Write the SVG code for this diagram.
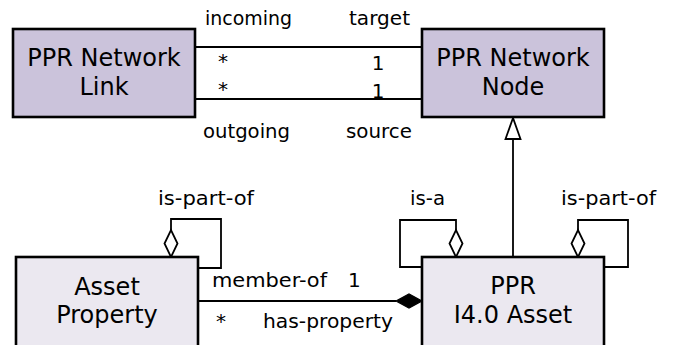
<svg xmlns="http://www.w3.org/2000/svg" width="673" height="345" viewBox="0 0 673 345">
  <style>
    .cls { stroke: #000; stroke-width: 2.6; }
    .top { fill: #cbc3db; }
    .low { fill: #ebe8f0; }
    .name { font-family: "DejaVu Sans", Verdana, sans-serif; font-size: 24px; fill: #000; text-anchor: middle; }
    .lbl { font-family: "DejaVu Sans", Verdana, sans-serif; font-size: 20px; fill: #000; }
    .mid { text-anchor: middle; }
    .edge { fill: none; stroke: #000; stroke-width: 1.8; }
    .hollow { fill: #fff; stroke: #000; stroke-width: 1.8; }
    .solid { fill: #000; stroke: #000; stroke-width: 1.2; }
  </style>

  <!-- connectors -->
  <g id="connectors">
    <!-- incoming / target -->
    <line class="edge" x1="195" y1="47" x2="422" y2="47"/>
    <!-- outgoing / source -->
    <line class="edge" x1="195" y1="99" x2="422" y2="99"/>
    <!-- generalisation: I4.0 Asset -> Network Node -->
    <line class="edge" x1="513" y1="139" x2="513" y2="257"/>
    <polygon class="hollow" points="513,118 505.5,139 520.5,139"/>
    <!-- has-property composition -->
    <line class="edge" x1="198" y1="301" x2="396" y2="301"/>
    <polygon class="solid" points="422,301 409,294 396,301 409,308"/>
    <!-- Asset Property is-part-of self loop -->
    <polyline class="edge" points="171,230 171,219 221,219 221,268 198,268"/>
    <polygon class="hollow" points="171,257 164.5,243.5 171,230 177.5,243.5"/>
    <!-- is-a self loop -->
    <polyline class="edge" points="456,230 456,220 400,220 400,267 422,267"/>
    <polygon class="hollow" points="456,257 449.5,243.5 456,230 462.5,243.5"/>
    <!-- I4.0 Asset is-part-of self loop -->
    <polyline class="edge" points="578,230 578,220 628,220 628,267 604,267"/>
    <polygon class="hollow" points="578,257 571.5,243.5 578,230 584.5,243.5"/>

    <!-- role names and multiplicities -->
    <text class="lbl" x="205" y="25" textLength="87" lengthAdjust="spacingAndGlyphs">incoming</text>
    <text class="lbl" x="349" y="25" textLength="61" lengthAdjust="spacingAndGlyphs">target</text>
    <text class="lbl mid" x="223" y="68">*</text>
    <text class="lbl mid" x="378" y="70">1</text>
    <text class="lbl mid" x="223" y="96">*</text>
    <text class="lbl mid" x="378" y="98">1</text>
    <text class="lbl" x="203" y="138" textLength="87" lengthAdjust="spacingAndGlyphs">outgoing</text>
    <text class="lbl" x="346" y="138" textLength="66" lengthAdjust="spacingAndGlyphs">source</text>
    <text class="lbl" x="158" y="205" textLength="96" lengthAdjust="spacingAndGlyphs">is-part-of</text>
    <text class="lbl" x="410" y="205" textLength="35" lengthAdjust="spacingAndGlyphs">is-a</text>
    <text class="lbl" x="561" y="205" textLength="95" lengthAdjust="spacingAndGlyphs">is-part-of</text>
    <text class="lbl" x="212" y="287" textLength="115" lengthAdjust="spacingAndGlyphs">member-of</text>
    <text class="lbl" x="348" y="287">1</text>
    <text class="lbl mid" x="221" y="328">*</text>
    <text class="lbl" x="263" y="328" textLength="130" lengthAdjust="spacingAndGlyphs">has-property</text>
  </g>

  <g id="network-link">
    <rect class="cls top" x="13" y="29" width="182" height="88"/>
    <text class="name" x="104" y="66">PPR Network</text>
    <text class="name" x="104" y="95">Link</text>
  </g>

  <g id="network-node">
    <rect class="cls top" x="422" y="29" width="182" height="88"/>
    <text class="name" x="513" y="66">PPR Network</text>
    <text class="name" x="513" y="95">Node</text>
  </g>

  <g id="asset-property">
    <rect class="cls low" x="16" y="257" width="182" height="100"/>
    <text class="name" x="107" y="295">Asset</text>
    <text class="name" x="107" y="323">Property</text>
  </g>

  <g id="i40-asset">
    <rect class="cls low" x="422" y="257" width="182" height="100"/>
    <text class="name" x="513" y="294">PPR</text>
    <text class="name" x="513" y="323">I4.0 Asset</text>
  </g>
</svg>
